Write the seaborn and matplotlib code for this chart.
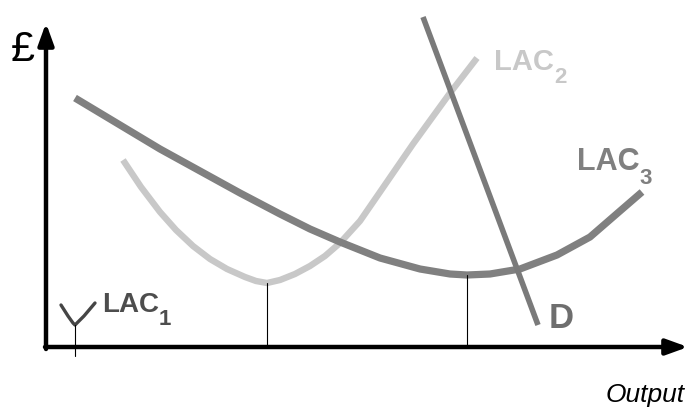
import matplotlib
matplotlib.use("Agg")
import matplotlib.pyplot as plt
import pandas as pd
import seaborn as sns

# Curves (output along x, £ cost along y, origin at the axes corner)
lac3_output = [29, 74, 114, 154, 194, 234, 264, 294, 334, 374, 404, 421,
               444, 474, 511, 544, 574, 596]
lac3_cost = [249, 222, 198, 176, 154, 133, 118, 105, 89, 78, 73, 72,
             73, 78, 92, 110, 136, 155]

lac2_output = [77, 95, 114, 130, 147, 164, 181, 199, 210, 221, 234, 249,
               264, 279, 294, 314, 334, 367, 404, 431]
lac2_cost = [187, 160, 135, 117, 101, 88, 78, 70, 66, 64, 67, 73,
             81, 91, 104, 126, 155, 203, 254, 289]

lac1_output = [15, 22, 27, 29, 31, 38, 49]
lac1_cost = [42, 31, 24, 22, 24, 31, 44]

demand_output = [377, 492]
demand_cost = [330, 22]

# minimum points of each LAC, marked with thin drop lines
min_output = [29, 221, 421]
min_cost = [22, 64, 72]

sns.set_theme(style="white")
plt.rcParams["font.family"] = ["Liberation Sans", "DejaVu Sans"]

fig = plt.figure(figsize=(6.88, 4.07), dpi=100)
ax = fig.add_axes([0, 0, 1, 1])

lac3 = pd.DataFrame({"output": lac3_output, "cost": lac3_cost})
lac2 = pd.DataFrame({"output": lac2_output, "cost": lac2_cost})
lac1 = pd.DataFrame({"output": lac1_output, "cost": lac1_cost})
demand = pd.DataFrame({"output": demand_output, "cost": demand_cost})

sns.lineplot(data=lac2, x="output", y="cost", sort=False, color="#c8c8c8",
             lw=4.6, ax=ax, solid_capstyle="butt", solid_joinstyle="round")
sns.lineplot(data=lac3, x="output", y="cost", sort=False, color="#808080",
             lw=5.2, ax=ax, solid_capstyle="butt", solid_joinstyle="round")
sns.lineplot(data=demand, x="output", y="cost", sort=False, color="#7a7a7a",
             lw=4.0, ax=ax, solid_capstyle="butt")
sns.lineplot(data=lac1, x="output", y="cost", sort=False, color="#454545",
             lw=2.4, ax=ax)

# drop lines from the minimum points
for i, (xo, yc) in enumerate(zip(min_output, min_cost)):
    bottom = -9 if i == 0 else 0
    ax.plot([xo, xo], [bottom, yc], color="black", lw=0.8)

# axes with arrow heads
arrow = dict(arrowstyle="-|>,head_length=1.3,head_width=0.47", mutation_scale=10,
             color="black", lw=3.2, shrinkA=0, shrinkB=0)
ax.annotate("", xy=(642, 0), xytext=(-1, 0), arrowprops=arrow)
ax.annotate("", xy=(0, 324), xytext=(0, -2), arrowprops=arrow)


def label(x, y, main, sub, color, size=21):
    t = ax.text(x, y, main, fontsize=size, fontweight="bold", color=color,
                va="baseline")
    ax.annotate(sub, xy=(1, 0), xycoords=t, xytext=(0, -8.5),
                textcoords="offset points", fontsize=16, fontweight="bold",
                color=color, va="bottom", ha="left")


label(56, 35, "LAC", "1", "#4d4d4d", size=20)
label(448, 277, "LAC", "2", "#c8c8c8")
label(531, 177, "LAC", "3", "#808080", size=22)
ax.text(503, 19, "D", fontsize=25, fontweight="bold", color="#6e6e6e",
        va="baseline")
ax.text(-23, 297, "£", fontsize=31, color="black", ha="center", va="center")
ax.text(639, -55, "Output", fontsize=19, style="italic", color="black",
        ha="right", va="baseline")

ax.set_xlim(-46, 642)
ax.set_ylim(-60, 347)
ax.set_axis_off()

fig.savefig("out.png", dpi=100)
